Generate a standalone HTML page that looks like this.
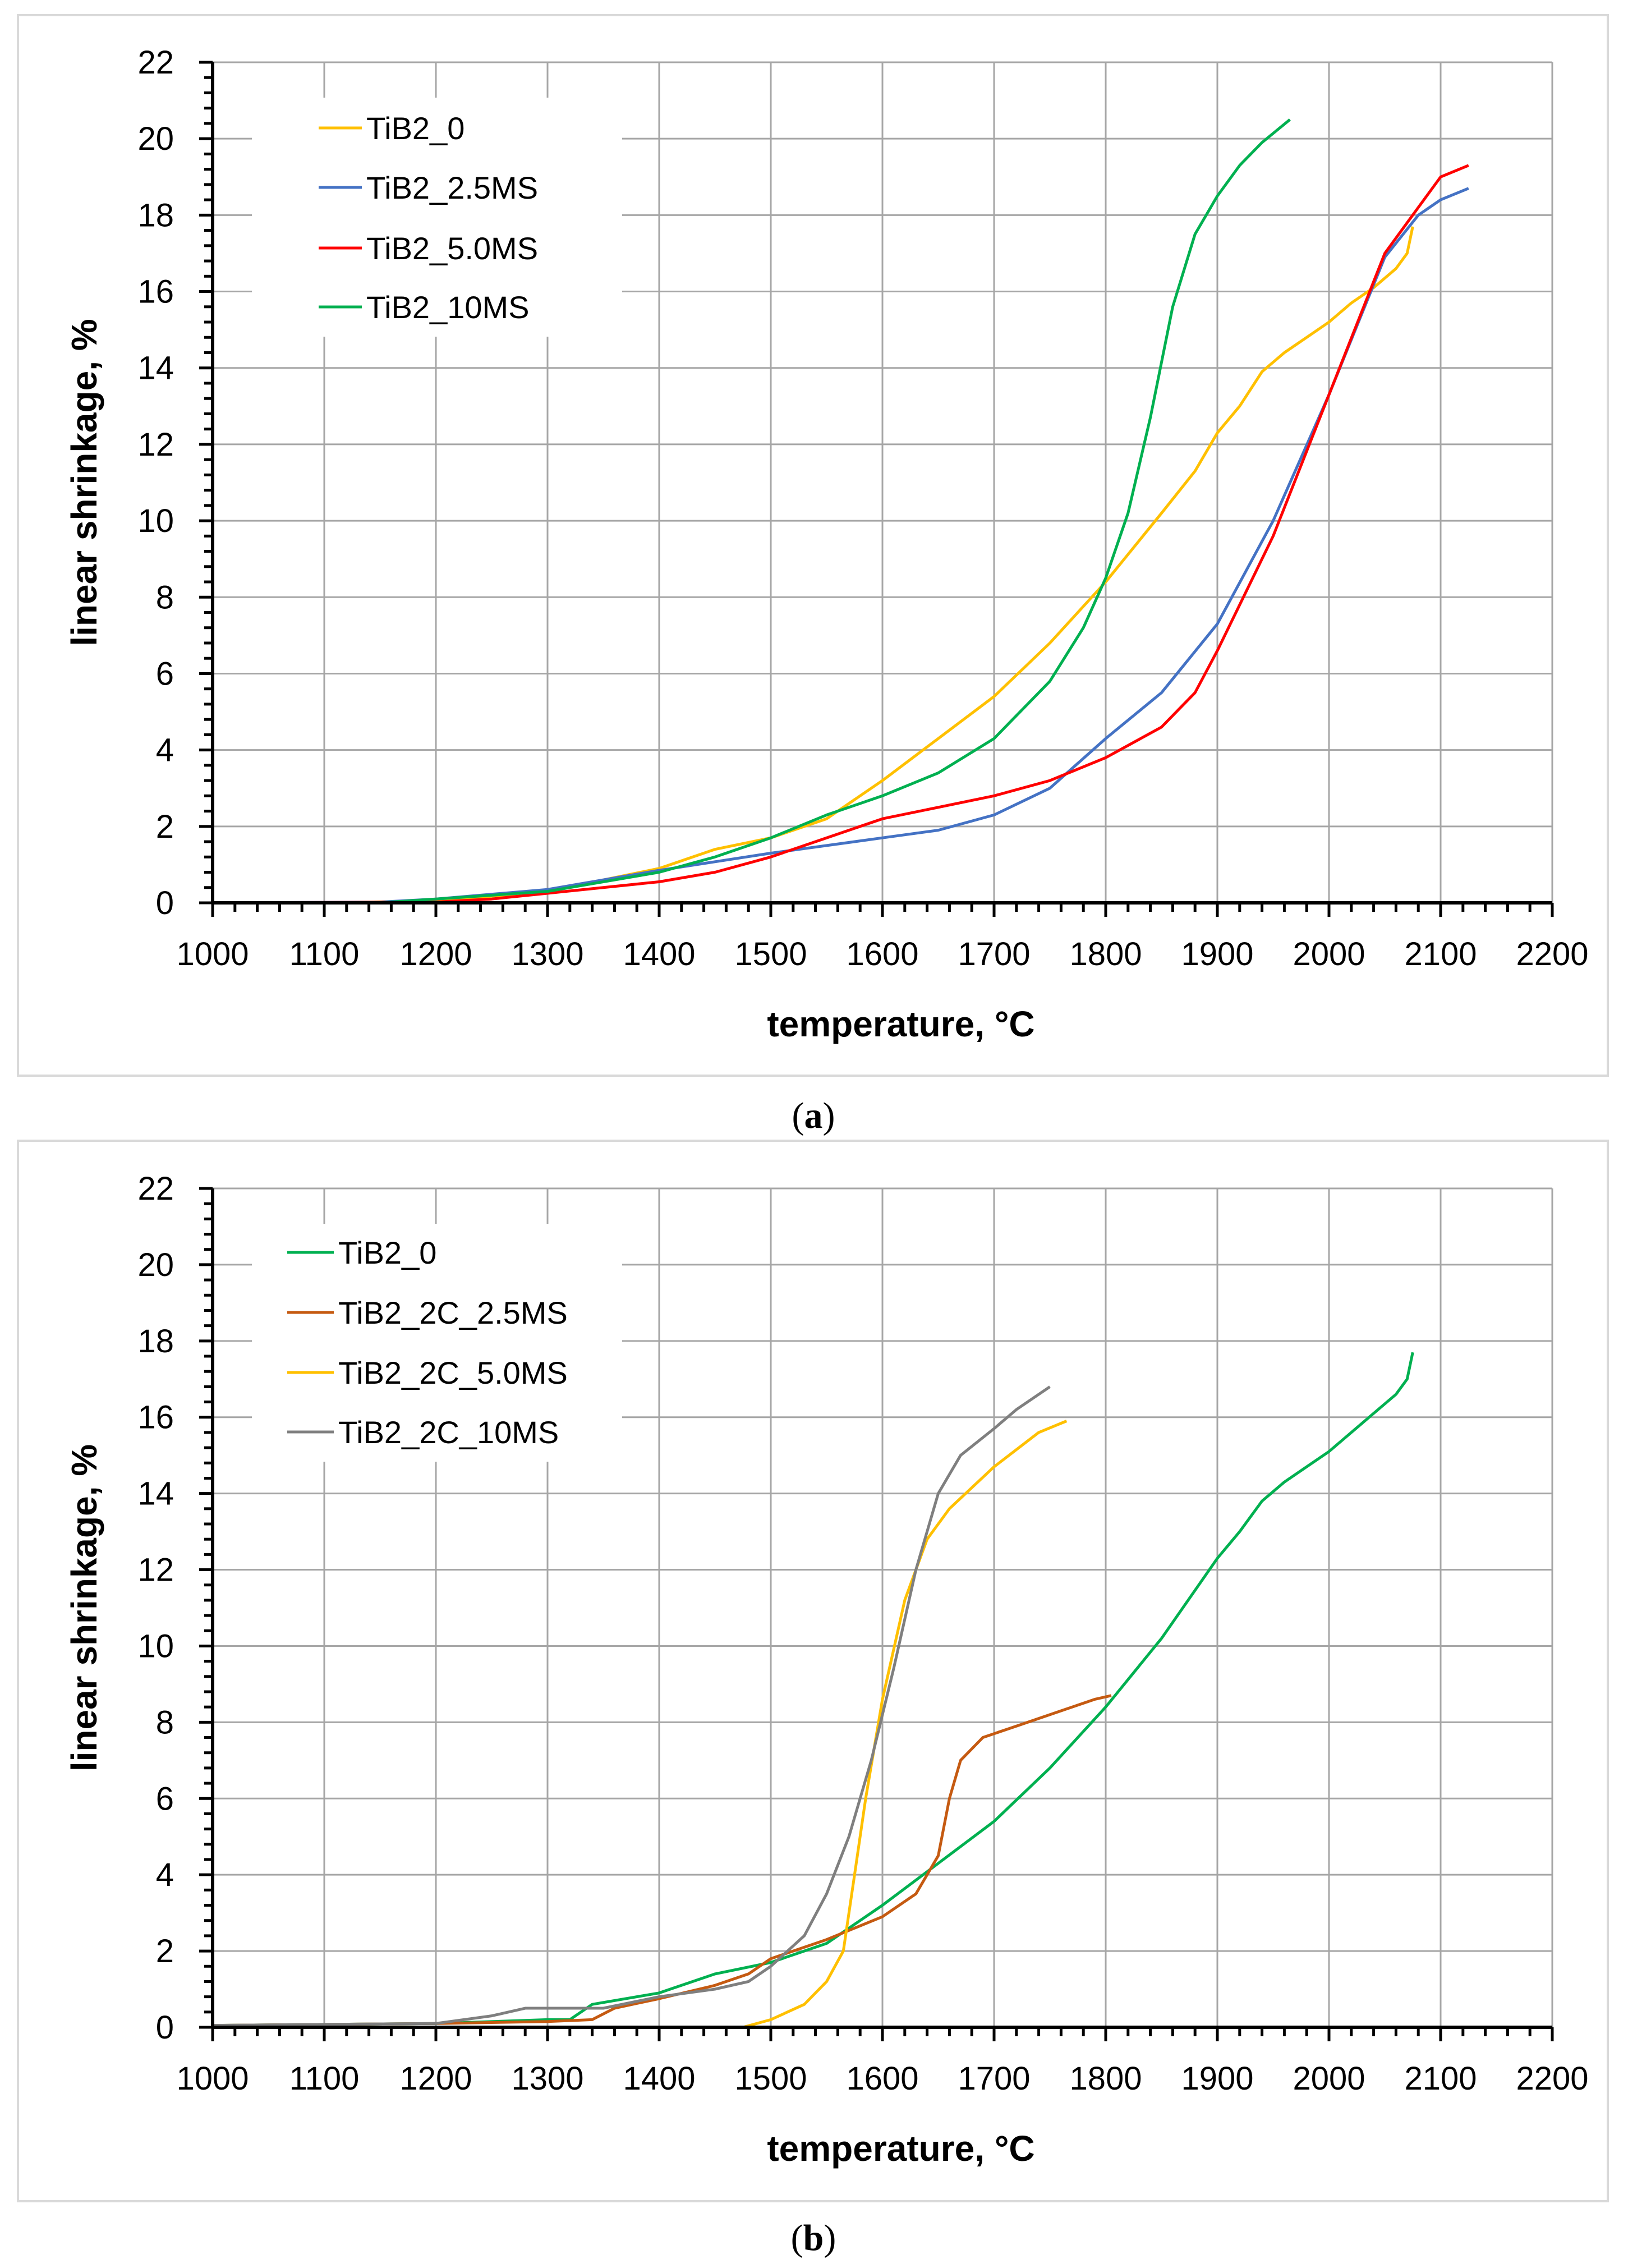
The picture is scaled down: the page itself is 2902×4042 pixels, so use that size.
<!DOCTYPE html>
<html><head><meta charset="utf-8"><style>
html,body{margin:0;padding:0;background:#fff;}
svg{display:block;}
text{font-family:"Liberation Sans",sans-serif;}
</style></head><body>
<svg id="svg" width="2902" height="4042" viewBox="0 0 2902 4042" xmlns="http://www.w3.org/2000/svg">
<rect x="0" y="0" width="2902" height="4042" fill="#fff"/>
<rect x="32" y="27" width="2834" height="1890" fill="#fff" stroke="#d9d9d9" stroke-width="4"/>
<rect x="32" y="2033" width="2834" height="1890" fill="#fff" stroke="#d9d9d9" stroke-width="4"/>
<text x="1450" y="2010" font-size="66" text-anchor="middle" style="font-family:'Liberation Serif',serif">(<tspan font-weight="bold">a</tspan>)</text>
<text x="1450" y="4010" font-size="66" text-anchor="middle" style="font-family:'Liberation Serif',serif">(<tspan font-weight="bold">b</tspan>)</text>
<g id="chartA"></g>
<g id="chartB"></g>
</svg>
<script>
// ---- shared axis data ----
const xTicks = [1000,1100,1200,1300,1400,1500,1600,1700,1800,1900,2000,2100,2200];
const yTicks = [0,2,4,6,8,10,12,14,16,18,20,22];

// ---- chart (a) data ----
const aNames = ["TiB2_0","TiB2_2.5MS","TiB2_5.0MS","TiB2_10MS"];
const aColors = ["#FFC000","#4472C4","#FF0000","#00B050"];
const a0_T = [1000,1100,1200,1300,1400,1450,1500,1550,1600,1650,1700,1750,1800,1850,1880,1900,1920,1940,1960,1980,2000,2020,2040,2060,2070,2075];
const a0_V = [0,0,0.05,0.3,0.9,1.4,1.7,2.2,3.2,4.3,5.4,6.8,8.4,10.2,11.3,12.3,13.0,13.9,14.4,14.8,15.2,15.7,16.1,16.6,17.0,17.7];
const a1_T = [1000,1150,1200,1300,1400,1500,1550,1600,1650,1700,1750,1800,1850,1900,1950,2000,2050,2080,2100,2125];
const a1_V = [0,0.02,0.1,0.35,0.85,1.3,1.5,1.7,1.9,2.3,3.0,4.3,5.5,7.3,10.0,13.3,16.9,18.0,18.4,18.7];
const a2_T = [1000,1200,1250,1300,1400,1450,1500,1550,1600,1650,1700,1750,1800,1850,1880,1900,1950,2000,2050,2080,2100,2125];
const a2_V = [0,0.02,0.1,0.25,0.55,0.8,1.2,1.7,2.2,2.5,2.8,3.2,3.8,4.6,5.5,6.6,9.6,13.3,17.0,18.2,19.0,19.3];
const a3_T = [1000,1150,1200,1300,1400,1450,1500,1550,1600,1650,1700,1750,1780,1800,1820,1840,1860,1880,1900,1920,1940,1965];
const a3_V = [0,0,0.1,0.3,0.8,1.2,1.7,2.3,2.8,3.4,4.3,5.8,7.2,8.5,10.2,12.7,15.6,17.5,18.5,19.3,19.9,20.5];

// ---- chart (b) data ----
const bNames = ["TiB2_0","TiB2_2C_2.5MS","TiB2_2C_5.0MS","TiB2_2C_10MS"];
const bColors = ["#00B050","#C55A11","#FFC000","#7F7F7F"];
const b0_T = [1000,1200,1300,1320,1340,1400,1450,1500,1550,1600,1650,1700,1750,1800,1850,1900,1920,1940,1960,1980,2000,2020,2040,2060,2070,2075];
const b0_V = [0.05,0.1,0.2,0.2,0.6,0.9,1.4,1.7,2.2,3.2,4.3,5.4,6.8,8.4,10.2,12.3,13.0,13.8,14.3,14.7,15.1,15.6,16.1,16.6,17.0,17.7];
const b1_T = [1000,1200,1300,1340,1360,1400,1450,1480,1500,1550,1600,1630,1650,1660,1670,1690,1720,1760,1790,1805];
const b1_V = [0.05,0.1,0.15,0.2,0.5,0.75,1.1,1.4,1.8,2.3,2.9,3.5,4.5,6.0,7.0,7.6,7.9,8.3,8.6,8.7];
const b2_T = [1475,1500,1530,1550,1565,1575,1585,1600,1620,1640,1660,1700,1740,1765];
const b2_V = [0,0.2,0.6,1.2,2.0,4.0,6.0,8.6,11.2,12.8,13.6,14.7,15.6,15.9];
const b3_T = [1000,1200,1250,1280,1350,1400,1450,1480,1500,1530,1550,1570,1590,1610,1630,1650,1670,1700,1720,1750];
const b3_V = [0.05,0.1,0.3,0.5,0.5,0.8,1.0,1.2,1.6,2.4,3.5,5.0,7.0,9.4,12.0,14.0,15.0,15.7,16.2,16.8];

const NS = "http://www.w3.org/2000/svg";
function mk(tag, attrs, parent){const e=document.createElementNS(NS,tag);for(const k in attrs)e.setAttribute(k,attrs[k]);parent.appendChild(e);return e;}

function drawChart(g, cfg, series, names, colors, prefix){
  const X0=379, X1=2767, yTop=cfg.yTop, yBot=cfg.yBot;
  const xS = t => X0 + (t-1000)/1200*(X1-X0);
  const yS = v => yBot - v/22*(yBot-yTop);
  // gridlines
  yTicks.forEach(v=>{ if(v===0) return;
    const l=mk('line',{x1:X0,x2:X1,y1:yS(v),y2:yS(v),stroke:'#a6a6a6','stroke-width':3},g);
     });
  xTicks.forEach(t=>{ if(t===1000) return;
    const l=mk('line',{x1:xS(t),x2:xS(t),y1:yTop,y2:yBot,stroke:'#a6a6a6','stroke-width':3},g);
     });
  // legend background
  const lb=mk('rect',{x:449,y:cfg.legTop,width:660,height:cfg.legBot-cfg.legTop,fill:'#fff'},g);
   
  // series
  series.forEach((s,i)=>{
    const d=s[0].map((t,k)=>(k?'L':'M')+xS(t).toFixed(1)+' '+yS(s[1][k]).toFixed(1)).join(' ');
    const p=mk('path',{d:d,fill:'none',stroke:colors[i],'stroke-width':5,'stroke-linejoin':'round'},g);
    
    
  });
  // axes
  const ax=mk('line',{x1:X0,x2:X1,y1:yBot,y2:yBot,stroke:'#000','stroke-width':6},g);
   
  const ay=mk('line',{x1:X0,x2:X0,y1:yTop,y2:yBot,stroke:'#000','stroke-width':6},g);
   
  // y ticks
  for(let v=0; v<=22.001; v+=0.4){
    const major=Math.abs(v/2-Math.round(v/2))<1e-6;
    const t=mk('line',{x1:major?355:364,x2:X0,y1:yS(v),y2:yS(v),stroke:'#000','stroke-width':5},g);
     
  }
  yTicks.forEach(v=>{
    const tx=mk('text',{x:310,y:yS(v)+20,'font-size':58,'text-anchor':'end',fill:'#000'},g);
    tx.textContent=v;
     
  });
  // x ticks
  for(let t=1000;t<=2200;t+=20){
    const major=t%100===0;
    const l=mk('line',{x1:xS(t),x2:xS(t),y1:yBot,y2:yBot+(major?25:16),stroke:'#000','stroke-width':5},g);
     
  }
  xTicks.forEach(t=>{
    const tx=mk('text',{x:xS(t),y:yBot+111,'font-size':58,'text-anchor':'middle',fill:'#000'},g);
    tx.textContent=t;
     
  });
  // titles
  const xt=mk('text',{x:1606,y:yBot+238,'font-size':64,'font-weight':'bold','text-anchor':'middle',fill:'#000'},g);
  xt.textContent='temperature, °C';
   
  const cy=(yTop+yBot)/2;
  const yt=mk('text',{x:0,y:0,'font-size':64,'font-weight':'bold','text-anchor':'middle',fill:'#000',transform:'translate(172,'+cy+') rotate(-90)'},g);
  yt.textContent='linear shrinkage, %';
   
  // legend
  names.forEach((n,i)=>{
    const yy=cfg.legRows[i];
    const l=mk('line',{x1:cfg.legX1,x2:cfg.legX2,y1:yy,y2:yy,stroke:colors[i],'stroke-width':5},g);
     
    const tx=mk('text',{x:cfg.legX2+8,y:yy+20,'font-size':56,fill:'#000'},g);
    tx.textContent=n;
     
  });
}

drawChart(document.getElementById('chartA'),
  {yTop:111,yBot:1609,legTop:174,legBot:600,legX1:568,legX2:645,legRows:[228,334,442,547]},
  [[a0_T,a0_V],[a1_T,a1_V],[a2_T,a2_V],[a3_T,a3_V]], aNames, aColors, 'a');
drawChart(document.getElementById('chartB'),
  {yTop:2118,yBot:3613,legTop:2181,legBot:2605,legX1:512,legX2:595,legRows:[2232,2339,2446,2552]},
  [[b0_T,b0_V],[b1_T,b1_V],[b2_T,b2_V],[b3_T,b3_V]], bNames, bColors, 'b');
</script>
</body></html>
